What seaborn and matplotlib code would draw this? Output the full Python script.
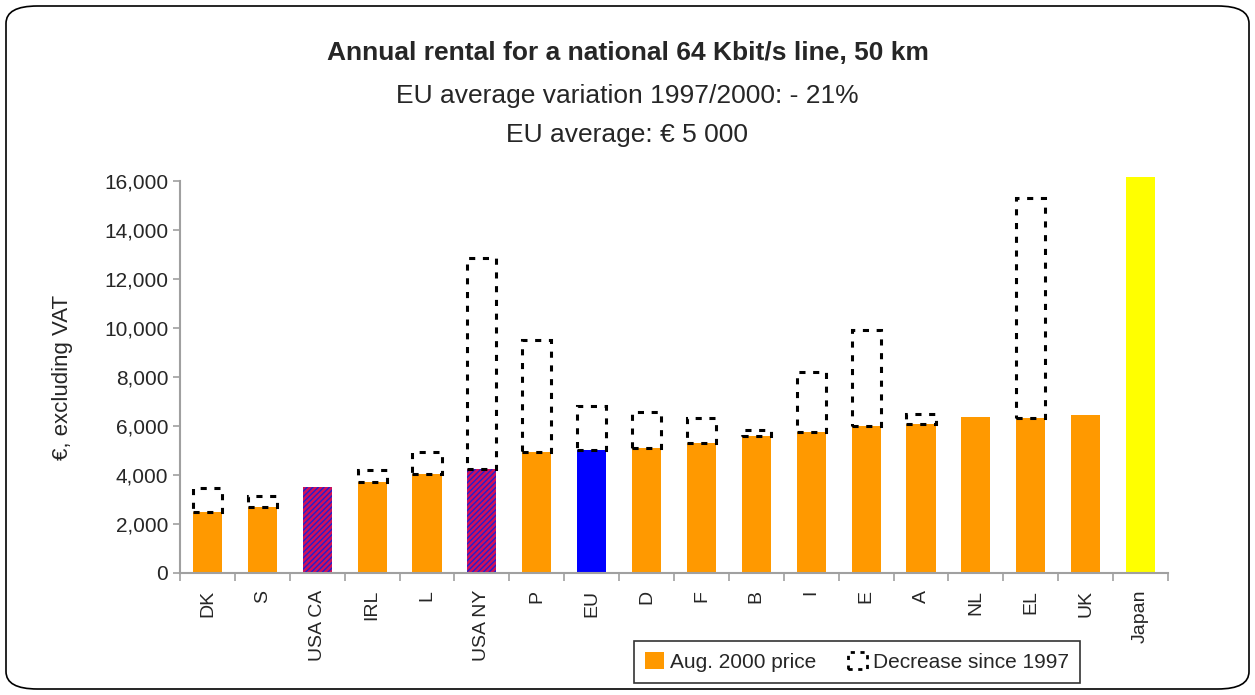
import matplotlib
matplotlib.use("Agg")
import matplotlib.pyplot as plt
import seaborn as sns
import pandas as pd
from matplotlib.patches import Patch, FancyBboxPatch
from matplotlib.ticker import FuncFormatter, FixedLocator

categories = ["DK", "S", "USA CA", "IRL", "L", "USA NY", "P", "EU", "D", "F",
              "B", "I", "E", "A", "NL", "EL", "UK", "Japan"]
price_2000 = [2500, 2680, 3510, 3710, 4040, 4230, 4940, 5020, 5120, 5290,
              5590, 5760, 6000, 6080, 6370, 6330, 6450, 16180]
price_1997 = [3480, 3160, None, 4220, 4950, 12870, 9520, 6820, 6570, 6340,
              5850, 8220, 9930, 6490, None, 15320, None, None]
bar_colors = ["#FF9900", "#FF9900", "#B0186E", "#FF9900", "#FF9900", "#B0186E",
              "#FF9900", "#0000FF", "#FF9900", "#FF9900", "#FF9900", "#FF9900",
              "#FF9900", "#FF9900", "#FF9900", "#FF9900", "#FF9900", "#FFFF00"]

sns.set_theme(style="white")
plt.rcParams['font.family'] = ['Liberation Sans', 'DejaVu Sans']

fig = plt.figure(figsize=(12.55, 6.95), dpi=100)
ax = fig.add_axes([180/1255, 1-573/695, (1168-180)/1255, (573-181)/695])

df = pd.DataFrame({"cat": categories, "v2000": price_2000})
sns.barplot(data=df, x="cat", y="v2000", hue="cat", palette=bar_colors,
            legend=False, width=0.53, saturation=1, ax=ax, linewidth=0)

for i, p in enumerate(ax.patches[:len(categories)]):
    p.set_clip_on(False)
    if categories[i].startswith("USA"):
        p.set_facecolor("#D0105A")
        p.set_hatch("//////")
        p.set_edgecolor("#2020D0")
        p.set_linewidth(0)

for i, (c, now, old) in enumerate(zip(categories, price_2000, price_1997)):
    if old is None:
        continue
    ax.bar(i, old - now, bottom=now, width=0.53, fill=False,
           edgecolor="black", linestyle=(0, (2, 2.5)), linewidth=2.2)

ax.set_ylim(0, 16000)
ax.set_xlim(-0.5, len(categories) - 0.5)
ax.yaxis.set_major_locator(FixedLocator(range(0, 16001, 2000)))
ax.yaxis.set_major_formatter(FuncFormatter(lambda v, p: f"{int(v):,}"))
ax.set_xlabel("")
ax.set_ylabel("€, excluding VAT", fontsize=16, labelpad=22)
ax.tick_params(axis='y', labelsize=15, length=5, color="#A0A0A0", left=True, width=1.2)
ax.tick_params(axis='x', labelsize=14, rotation=90, length=0, pad=12)
ax.set_xticks(range(len(categories)))
ax.set_xticklabels(categories)
ax.set_xticks([i + 0.5 for i in range(-1, len(categories))], minor=True)
ax.tick_params(axis='x', which='minor', bottom=True, length=6, color="#A0A0A0", width=1.2)
for s in ["top", "right"]:
    ax.spines[s].set_visible(False)
for s in ["left", "bottom"]:
    ax.spines[s].set_color("#A0A0A0")
    ax.spines[s].set_linewidth(1.5)

fig.text(0.5, 1-53/695, "Annual rental for a national 64 Kbit/s line, 50 km",
         ha="center", va="center", fontsize=19, fontweight="bold")
fig.text(0.5, 1-96/695, "EU average variation 1997/2000: - 21%",
         ha="center", va="center", fontsize=19)
fig.text(0.5, 1-135/695, "EU average: € 5 000",
         ha="center", va="center", fontsize=19)

handles = [Patch(facecolor="#FF9900", edgecolor="none", label="Aug. 2000 price"),
           Patch(facecolor="white", edgecolor="black", linestyle=(0, (1.5, 2)),
                 linewidth=2, label="Decrease since 1997")]
leg = fig.legend(handles=handles, ncol=2, loc="center",
                 bbox_to_anchor=(857/1255, 1-662/695), fontsize=15,
                 frameon=True, fancybox=False, edgecolor="black",
                 handlelength=0.9, handleheight=0.9, handletextpad=0.3,
                 columnspacing=1.5, borderpad=0.55)
leg.get_frame().set_linewidth(1.2)

border = FancyBboxPatch((6/1255, 6/695), 1243/1255, 683/695,
                        boxstyle="round,pad=0,rounding_size=0.025",
                        transform=fig.transFigure, fill=False,
                        edgecolor="black", linewidth=1.2)
fig.patches.append(border)

fig.savefig("out.png", dpi=100)
